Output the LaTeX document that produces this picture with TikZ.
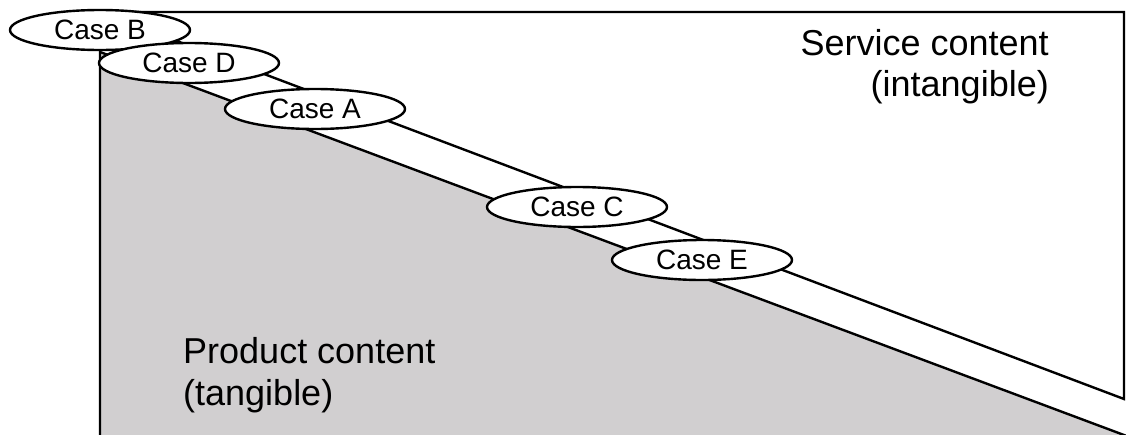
\documentclass[tikz,border=0pt]{standalone}
\usepackage{fontspec}
\setmainfont{Liberation Sans}
\usetikzlibrary{shapes.geometric}
\definecolor{tangiblegray}{RGB}{209,207,208}
\begin{document}
\begin{tikzpicture}[x=1pt,y=-1pt,
  outline/.style={line width=2.4pt, draw=black, line join=miter},
  casebox/.style={ellipse, draw=black, line width=2.4pt, fill=white,
    minimum width=180pt, minimum height=40pt, inner sep=0pt,
    font=\fontsize{28}{28}\selectfont},
  regionlabel/.style={inner sep=0pt, font=\fontsize{36}{42}\selectfont}]
\useasboundingbox (0,0) rectangle (1126,434);
\clip (0,0) rectangle (1126,434);

% frame corners and the two diagonals
\coordinate (tl) at (100,12);
\coordinate (tr) at (1124,12);
\coordinate (rb) at (1124,399);
\coordinate (gl) at (100,52);
\coordinate (gb) at (1132,438);
\coordinate (lb) at (100,440);

% product (tangible) area
\fill[tangiblegray] (gl) -- (gb) -- (lb) -- cycle;

% outlines: left edge, top edge, right edge, upper diagonal
\draw[outline] (lb) -- (tl) -- (tr) -- (rb) -- (tl);
% lower diagonal bounding the grey area
\draw[outline] (gl) -- (gb);

% cases along the band
\node[casebox] (caseB) at (100,30) {Case B};
\node[casebox] (caseD) at (189,63) {Case D};
\node[casebox] (caseA) at (315,109) {Case A};
\node[casebox] (caseC) at (577,207) {Case C};
\node[casebox] (caseE) at (702,260) {Case E};

% region labels
\node[regionlabel, anchor=base east] (service) at (1049,55) {Service content};
\node[regionlabel, anchor=base east] (intangible) at (1049,96) {(intangible)};
\node[regionlabel, anchor=base west] (product) at (183,363) {Product content};
\node[regionlabel, anchor=base west] (tangible) at (183,405) {(tangible)};
\end{tikzpicture}
\end{document}
